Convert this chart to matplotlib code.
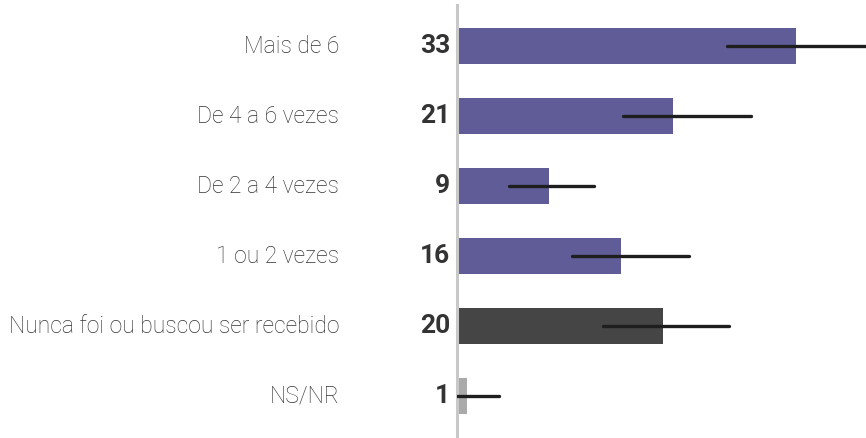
import matplotlib.pyplot as plt

categories = ['Mais de 6', 'De 4 a 6 vezes', 'De 2 a 4 vezes', '1 ou 2 vezes',
              'Nunca foi ou buscou ser recebido', 'NS/NR']
values = [33, 21, 9, 16, 20, 1]
# error interval ends
err_low = [26.3, 16.2, 5.1, 11.2, 14.2, 0.0]
err_high = [40.5, 28.6, 13.3, 22.6, 26.5, 4.1]
colors = ['#605c98', '#605c98', '#605c98', '#605c98', '#454545', '#aaaaaa']

W, H = 866, 438
fig = plt.figure(figsize=(W / 100, H / 100), dpi=100)
ax = fig.add_axes([457 / W, 0, 1 - 457 / W, 1 - 5 / H])

ys = list(range(len(categories)))
ax.barh(ys, values, height=0.51, color=colors, zorder=2)
for y, lo, hi in zip(ys, err_low, err_high):
    ax.plot([lo, hi], [y, y], color='#1e1e1e', lw=2.4, solid_capstyle='round',
            zorder=3, clip_on=True)

ax.set_xlim(0, 39.8)
ax.set_ylim(5.6, -0.586)
for s in ['top', 'right', 'bottom']:
    ax.spines[s].set_visible(False)
ax.spines['left'].set_color('#c8c8c8')
ax.spines['left'].set_linewidth(2.2)
ax.set_xticks([])
ax.set_yticks([])

for y, cat, v in zip(ys, categories, values):
    ax.annotate(cat, xy=(0, y), xytext=(-118, 0), textcoords='offset pixels',
                ha='right', va='center', fontsize=16.5, family='Roboto',
                fontweight='light', color='#333333', annotation_clip=False)
    ax.annotate(str(v), xy=(0, y), xytext=(-7, 0), textcoords='offset pixels',
                ha='right', va='center', fontsize=19, family='Roboto',
                fontweight='bold', color='#333333', annotation_clip=False)

fig.savefig('out.png', dpi=100)
